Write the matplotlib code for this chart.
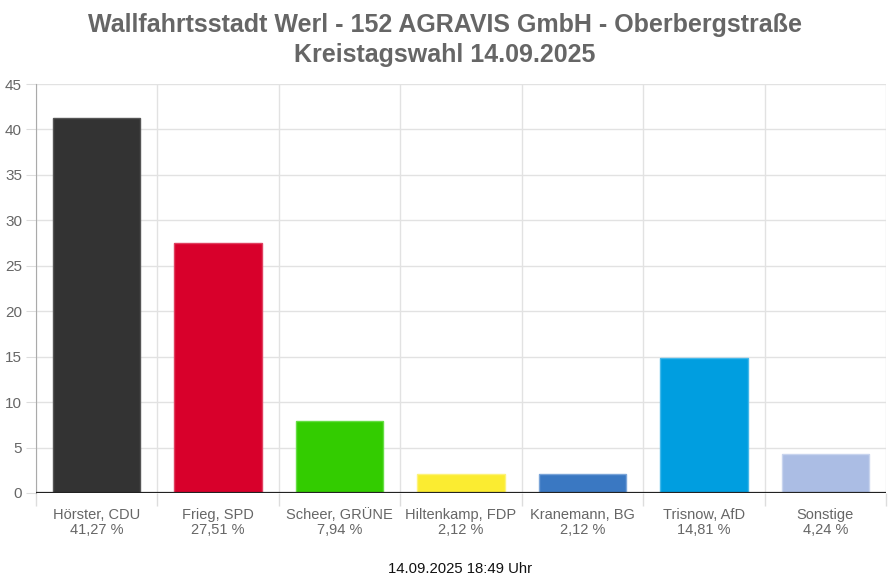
"""Kreistagswahl Werl, Stimmbezirk 152."""
import matplotlib
matplotlib.use("Agg")
import matplotlib.pyplot as plt
import numpy as np

candidates = [
    "Hörster, CDU",
    "Frieg, SPD",
    "Scheer, GRÜNE",
    "Hiltenkamp, FDP",
    "Kranemann, BG",
    "Trisnow, AfD",
    "Sonstige",
]
shares = [41.27, 27.51, 7.94, 2.12, 2.12, 14.81, 4.24]
party_colors = ["#333333", "#d8002b", "#33cc00", "#fbec31", "#3a78c2", "#009ee0", "#abbde4"]
edge_colors = ["#555555", "#e04060", "#66dd44", "#fdf37a", "#7aa4d8", "#44b8ea", "#c8d4ee"]

plt.rcParams["font.family"] = ["Liberation Sans", "DejaVu Sans"]

fig = plt.figure(figsize=(8.9, 5.85), dpi=100)
ax = fig.add_axes([36 / 890, 1 - 493 / 585, 850 / 890, 409 / 585])

x = np.arange(len(candidates))
ax.bar(x, shares, width=0.72, color=party_colors, edgecolor=edge_colors,
       linewidth=1, zorder=2)

ax.set_xlim(-0.5, len(candidates) - 0.5)
ax.set_ylim(0, 45)
ax.set_yticks(range(0, 46, 5))

labels = [f"{c}\n{s:.2f} %".replace(".", ",") for c, s in zip(candidates, shares)]
ax.set_xticks(x)
ax.set_xticklabels(labels, fontsize=10.5, color="#666666", linespacing=1.1)
ax.set_xticks(np.arange(-0.5, len(candidates)), minor=True)
ax.tick_params(axis="x", which="major", length=0, pad=11)
ax.tick_params(axis="x", which="minor", length=9, color="#dddddd", width=1)
ax.tick_params(axis="y", length=7, color="#dddddd", labelsize=11,
               labelcolor="#666666", pad=3)

ax.grid(True, axis="y", color="#e2e2e2", linewidth=1, zorder=0)
ax.grid(True, axis="x", which="minor", color="#e2e2e2", linewidth=1, zorder=0)
ax.axhline(0, color="#222222", linewidth=1.6, zorder=3)

for side in ["top", "right", "bottom"]:
    ax.spines[side].set_visible(False)
ax.spines["left"].set_color("#aaaaaa")

fig.text(0.5, 1 - 25 / 585, "Wallfahrtsstadt Werl - 152 AGRAVIS GmbH - Oberbergstraße",
         ha="center", va="center", fontsize=18, fontweight="bold", color="#666666")
fig.text(0.5, 1 - 55 / 585, "Kreistagswahl 14.09.2025",
         ha="center", va="center", fontsize=18, fontweight="bold", color="#666666")
fig.text(460 / 890, 1 - 569 / 585, "14.09.2025 18:49 Uhr",
         ha="center", va="center", fontsize=10.7, color="#111111")

fig.savefig("out.png", dpi=100)
